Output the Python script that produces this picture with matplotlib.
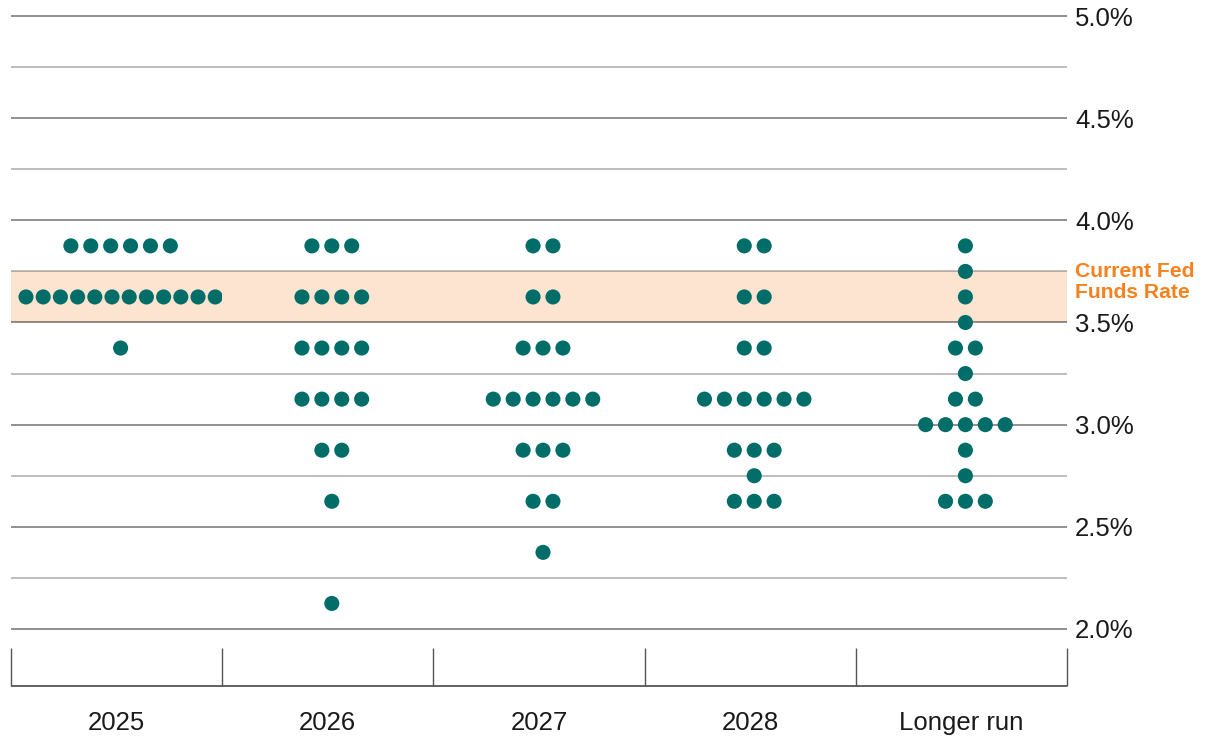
import matplotlib
matplotlib.use("Agg")
import matplotlib.pyplot as plt
from matplotlib.patches import Rectangle

plt.rcParams['font.family'] = ['Liberation Sans', 'DejaVu Sans']

# ---- data ----
categories = ["2025", "2026", "2027", "2028", "Longer run"]
rates_2025 = [3.875, 3.625, 3.375]
counts_2025 = [6, 12, 1]
rates_2026 = [3.875, 3.625, 3.375, 3.125, 2.875, 2.625, 2.125]
counts_2026 = [3, 4, 4, 4, 2, 1, 1]
rates_2027 = [3.875, 3.625, 3.375, 3.125, 2.875, 2.625, 2.375]
counts_2027 = [2, 2, 3, 6, 3, 2, 1]
rates_2028 = [3.875, 3.625, 3.375, 3.125, 2.875, 2.75, 2.625]
counts_2028 = [2, 2, 2, 6, 3, 1, 3]
rates_lr = [3.875, 3.75, 3.625, 3.5, 3.375, 3.25, 3.125, 3.0, 2.875, 2.75, 2.625]
counts_lr = [1, 1, 1, 1, 2, 1, 2, 5, 1, 1, 3]
current_rate_low = 3.5
current_rate_high = 3.75
band_label = "Current Fed\nFunds Rate"
ytick_values = [2.0, 2.5, 3.0, 3.5, 4.0, 4.5, 5.0]
ytick_labels = ["2.0%", "2.5%", "3.0%", "3.5%", "4.0%", "4.5%", "5.0%"]
grid_values = [2.0, 2.25, 2.5, 2.75, 3.0, 3.25, 3.5, 3.75, 4.0, 4.25, 4.5, 4.75, 5.0]

all_rates = [rates_2025, rates_2026, rates_2027, rates_2028, rates_lr]
all_counts = [counts_2025, counts_2026, counts_2027, counts_2028, counts_lr]

# ---- style ----
DOT_COLOR = "#006D69"
BAND_COLOR = "#FCE4D1"
ORANGE = "#F5821F"
DOT_SHIFT = 0.019
BASE_STEP = 0.0942
MAX_SPAN = 0.896

fig = plt.figure(figsize=(12.16, 7.38), dpi=100)
ax = fig.add_axes([11/1216, 52/738, 1056/1216, 670/738])
ax.set_xlim(-0.5, 4.5)
ax.set_ylim(1.721, 5.0)
for s in ax.spines.values():
    s.set_visible(False)

# band
ax.axhspan(current_rate_low, current_rate_high, color=BAND_COLOR, lw=0, zorder=0)

# gridlines
for g in grid_values:
    major = abs(g * 2 - round(g * 2)) < 1e-9
    ax.hlines(g, -0.5, 4.5, colors="black", alpha=0.55 if major else 0.33,
              lw=1.1, zorder=1, clip_on=False)

# bottom category frame
ax.hlines(ax.get_ylim()[0], -0.5, 4.5, colors="#555555", lw=1.3, zorder=1, clip_on=False)
for i in range(len(categories) + 1):
    ax.vlines(i - 0.5, ax.get_ylim()[0], 1.907, colors="#555555", lw=1.0, zorder=1, clip_on=False)

# dots
for i, (rates, counts) in enumerate(zip(all_rates, all_counts)):
    clip = Rectangle((i - 0.5, 0), 1.0, 10, transform=ax.transData)
    for r, n in zip(rates, counts):
        step = BASE_STEP if n <= 1 else min(BASE_STEP, MAX_SPAN / (n - 1))
        xs = [i + DOT_SHIFT + (k - (n - 1) / 2) * step for k in range(n)]
        sc = ax.scatter(xs, [r] * n, s=118, color=DOT_COLOR, edgecolors="none", zorder=3)
        sc.set_clip_path(clip)

# category labels
for i, c in enumerate(categories):
    ax.text(i, 1.5057, c, ha="center", va="baseline", fontsize=18.5, color="#1a1a1a")

# y ticks on right
ax.set_xticks([])
ax.yaxis.tick_right()
ax.set_yticks(ytick_values)
ax.set_yticklabels(ytick_labels, fontsize=18.5, color="#1a1a1a")
ax.tick_params(axis="y", length=0, pad=5.8)

# band label
ax.annotate(band_label, xy=(1.0, 3.797), xycoords=("axes fraction", "data"),
            xytext=(5.8, 0), textcoords="offset points", ha="left", va="top",
            fontsize=15.2, fontweight="bold", color=ORANGE, linespacing=1.12)

fig.savefig("out.png", dpi=100)
